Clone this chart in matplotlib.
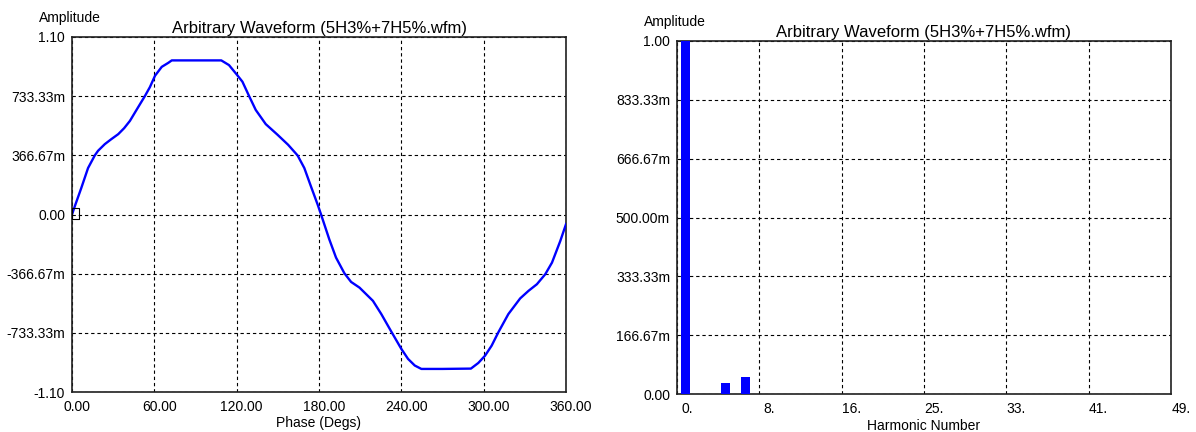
import matplotlib
matplotlib.use("Agg")
import matplotlib.pyplot as plt
from matplotlib.path import Path
from matplotlib.transforms import ScaledTranslation

plt.rcParams['font.family'] = ['Liberation Sans', 'DejaVu Sans']

# ---------------- data ----------------
title = "Arbitrary Waveform (5H3%+7H5%.wfm)"

phase_deg = [0, 2, 6.8, 11.7, 16.6, 19, 23.9, 28.5, 33.7, 38, 42.2, 47, 53.2, 56.8,
             60.5, 65.4, 70.2, 72.7, 90, 108.8, 114.4, 120, 124.2, 129, 133.9, 141.2,
             149.8, 157.5, 164.4, 169.3, 174.1, 179, 181.5, 187.5, 192.4, 198.5, 203.4,
             209.5, 219.3, 225.4, 232.7, 240, 244.9, 249.8, 254.6, 270, 290.7, 296.1,
             301, 305.8, 310.7, 318, 326.6, 332.7, 338.8, 344.9, 349.8, 355.8, 360]
amplitude = [0.0, 0.05, 0.165, 0.288, 0.366, 0.395, 0.436, 0.466, 0.498, 0.535, 0.58,
             0.648, 0.735, 0.79, 0.86, 0.915, 0.94, 0.955, 0.955, 0.955, 0.926, 0.868,
             0.823, 0.735, 0.648, 0.56, 0.494, 0.432, 0.366, 0.288, 0.175, 0.062, 0.0,
             -0.154, -0.267, -0.364, -0.418, -0.453, -0.535, -0.617, -0.726, -0.833,
             -0.895, -0.936, -0.957, -0.957, -0.955, -0.92, -0.875, -0.813, -0.73,
             -0.617, -0.52, -0.473, -0.432, -0.37, -0.298, -0.165, -0.06]

phase_ticks = [0, 60, 120, 180, 240, 300, 360]
phase_ticklabels = ["0.00", "60.00", "120.00", "180.00", "240.00", "300.00", "360.00"]
wave_yticks = [-1.1, -0.73333, -0.36667, 0.0, 0.36667, 0.73333, 1.1]
wave_yticklabels = ["-1.10", "-733.33m", "-366.67m", "0.00", "366.67m", "733.33m", "1.10"]

harmonics = [1, 5, 7]
harm_amplitude = [1.0, 0.030, 0.047]
harm_ticks = [0.2, 8.367, 16.533, 24.7, 32.867, 41.033, 49.2]
harm_ticklabels = ["0.", "8.", "16.", "25.", "33.", "41.", "49."]
spec_yticks = [0.0, 0.16667, 0.33333, 0.5, 0.66667, 0.83333, 1.0]
spec_yticklabels = ["0.00", "166.67m", "333.33m", "500.00m", "666.67m", "833.33m", "1.00"]

# ---------------- figure ----------------
W, H = 1196, 432
fig = plt.figure(figsize=(W / 100, H / 100), dpi=100)

def px_axes(l, t, r, b):
    return fig.add_axes([l / W, 1 - b / H, (r - l) / W, (b - t) / H]), (b - t)

ax1, h1 = px_axes(72, 37, 566, 392)
ax2, h2 = px_axes(677, 41, 1171, 394)

blue = '#0000ff'
grid_kw = dict(color='black', linewidth=0.8, linestyle=(0, (3, 2.6)))

def style(ax, xdx, xlabel, label_base_px, hpx):
    for s in ax.spines.values():
        s.set_color('#202020')
        s.set_linewidth(1.2)
    ax.tick_params(length=0, labelsize=10, colors='black')
    ax.tick_params(axis='y', pad=5)
    ax.grid(True, **grid_kw)
    ax.set_axisbelow(True)
    off = ScaledTranslation(xdx / 100, 0, fig.dpi_scale_trans)
    for lab in ax.get_xticklabels():
        lab.set_transform(lab.get_transform() + off)
    ax.set_title(title, fontsize=12, pad=3)
    ax.set_xlabel(xlabel, fontsize=10, va='baseline')
    ax.xaxis.set_label_coords(0.5, -label_base_px / hpx)
    ax.annotate("Amplitude", xy=(0, 1), xycoords='axes fraction',
                xytext=(-33 * 0.72, 15 * 0.72), textcoords='offset points',
                ha='left', va='baseline', fontsize=10)

# left: waveform
ax1.plot(phase_deg, amplitude, color=blue, linewidth=1.7, zorder=3)
rect = Path([[0, -0.6], [1, -0.6], [1, 1], [0, 1], [0, -0.6]],
            [Path.MOVETO, Path.LINETO, Path.LINETO, Path.LINETO, Path.CLOSEPOLY])
ax1.plot([phase_deg[0]], [amplitude[0]], marker=rect, markersize=9.5,
         markerfacecolor='none', markeredgecolor='black', markeredgewidth=0.8,
         linestyle='none', zorder=4, clip_on=False)
ax1.set_xlim(0, 360)
ax1.set_ylim(-1.1, 1.1)
ax1.set_xticks(phase_ticks)
ax1.set_xticklabels(phase_ticklabels)
ax1.set_yticks(wave_yticks)
ax1.set_yticklabels(wave_yticklabels)
ax1.tick_params(axis='x', pad=6)
style(ax1, 5, "Phase (Degs)", 35, h1)

# right: spectrum
ax2.bar(harmonics, harm_amplitude, width=0.9, color=blue, zorder=3)
ax2.set_xlim(harm_ticks[0], harm_ticks[-1])
ax2.set_ylim(0, 1.0)
ax2.set_xticks(harm_ticks)
ax2.set_xticklabels(harm_ticklabels)
ax2.set_yticks(spec_yticks)
ax2.set_yticklabels(spec_yticklabels)
ax2.tick_params(axis='x', pad=6)
style(ax2, 10, "Harmonic Number", 36, h2)

fig.savefig("out.png", dpi=100)
